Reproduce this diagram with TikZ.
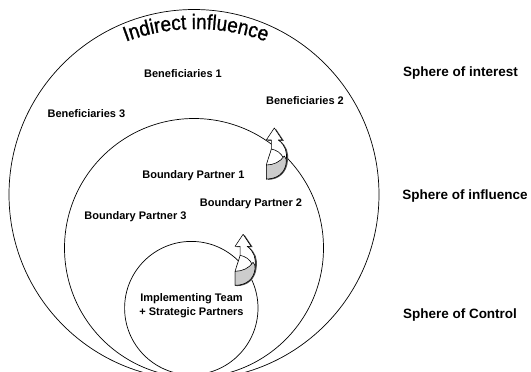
\documentclass[tikz,border=0pt]{standalone}
\usepackage{fontspec}
\setmainfont{Liberation Sans}
\newfontfamily\narrowsans[FakeStretch=0.9,FakeBold=1]{Liberation Sans}
\newcommand\arcfont{\fontsize{21}{24}\selectfont\narrowsans}
\usetikzlibrary{decorations.text}

\begin{document}
\begin{tikzpicture}
[x=1pt,y=-1pt,
sphere/.style={draw=black,line width=0.7pt},
inlabel/.style={font=\fontsize{11}{14}\selectfont\bfseries,align=center,inner sep=1pt},
spherelabel/.style={font=\fontsize{13.5}{15}\selectfont\bfseries,inner sep=1pt},
arrowline/.style={draw=black,line width=0.6pt,line join=round},
turnarrow/.pic={
  % shadow
  \fill[black!70,shift={(1.6,0.8)}] (0,0) -- (8,12) -- (4,12) .. controls (11,17) and (13,24) .. (12,32)
    .. controls (11,44) and (3,51) .. (-8,51) -- (-8,37) .. controls (-6,30) and (-4,25) .. (-3,21)
    -- (-3,12) -- (-8,12) -- cycle;
  % back of the band and head
  \filldraw[fill=white,arrowline] (0,0) -- (8,12) -- (4,12) .. controls (11,17) and (13,24) .. (12,32)
    .. controls (11,44) and (3,51) .. (-8,51) -- (-8,37) .. controls (-6,30) and (-4,25) .. (-3,21)
    -- (-3,12) -- (-8,12) -- cycle;
  \draw[arrowline] (-3,21) .. controls (2,22) and (7,25) .. (9,30);
  % front face
  \filldraw[fill=black!20,arrowline] (-8,37) .. controls (-1,37) and (6,34) .. (10,28)
    .. controls (12,31) and (12,32) .. (12,34) .. controls (11,45) and (3,51) .. (-8,51) -- cycle;
}]

\clip (0,0) rectangle (531,372);

% the three spheres
\draw[sphere] (194,194.5) circle [radius=185];
\draw[sphere] (194,248) circle [radius=129.5];
\draw[sphere] (191.3,308.1) circle [radius=66.7];

% arched title
\path[decorate,decoration={text along path,text align=center,
  text={|\arcfont|Indirect influence}}]
  (196,229) ++(249:200) arc [start angle=249,end angle=291,radius=200];

\pic at (274.3,128) {turnarrow};
\pic at (243.1,234.3) {turnarrow};

\node (ben1) [inlabel] at (183,73.5) {Beneficiaries 1};
\node (ben2) [inlabel] at (305,100.6) {Beneficiaries 2};
\node (ben3) [inlabel] at (86.4,114) {Beneficiaries 3};

\node (bp1) [inlabel] at (193.4,176) {Boundary Partner 1};
\node (bp2) [inlabel] at (251,203.5) {Boundary Partner 2};
\node (bp3) [inlabel] at (135.5,216.7) {Boundary Partner 3};

\node (team) [inlabel] at (191.5,306) {Implementing Team\\+ Strategic Partners};

\node (interest) [spherelabel] at (460.5,72.8) {Sphere of interest};
\node (influence) [spherelabel] at (465,195.7) {Sphere of influence};
\node (control) [spherelabel] at (460,315) {Sphere of Control};

\end{tikzpicture}
\end{document}
